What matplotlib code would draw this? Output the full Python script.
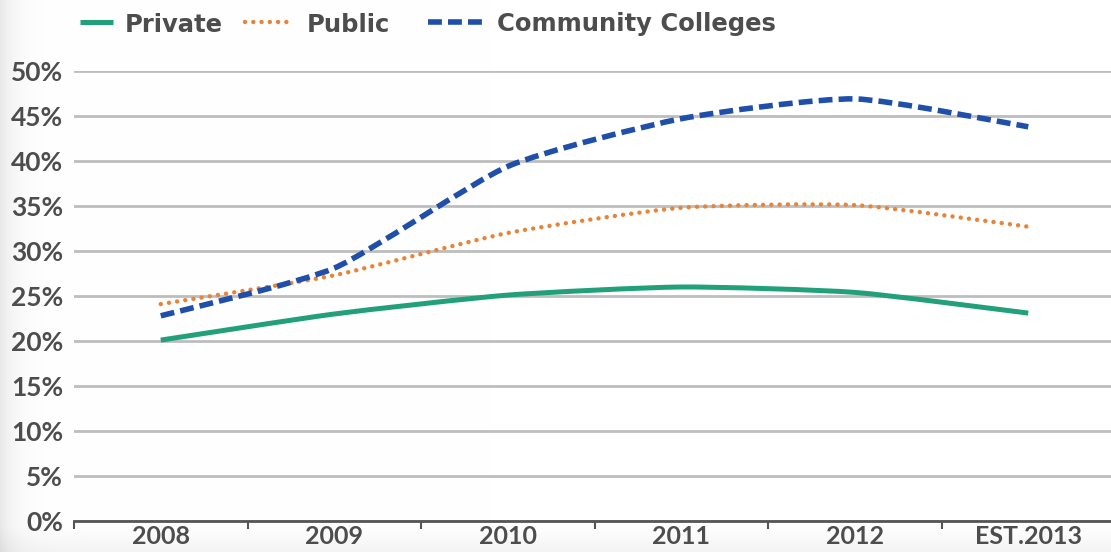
import numpy as np
import matplotlib
matplotlib.use("Agg")
import matplotlib.pyplot as plt
from matplotlib.path import Path
from matplotlib.patches import PathPatch
from matplotlib.lines import Line2D

years = ["2008", "2009", "2010", "2011", "2012", "EST.2013"]
private = [20.1, 23.0, 25.1, 26.0, 25.4, 23.1]
public = [24.1, 27.3, 32.0, 34.8, 35.1, 32.7]
community = [22.8, 28.1, 39.4, 44.7, 46.9, 43.8]
y_ticks = list(range(0, 55, 5))

GREEN = "#22a07a"
ORANGE = "#e6853a"
BLUE = "#1f4fa8"
TEXT = "#4d4d4d"

plt.rcParams["font.family"] = ["Lato", "DejaVu Sans"]

W, H = 1111, 552
fig = plt.figure(figsize=(W / 100, H / 100), dpi=100)
fig.patch.set_facecolor("white")

# soft grey shading along the left and bottom edges of the slide
xx = np.arange(W)[None, :]
yy = np.arange(H)[:, None]
shade = 0.09 * np.exp(-xx / 14.0) + 0.045 * np.clip((yy - 525) / 27.0, 0, 1)
bg = np.clip(1.0 - shade, 0, 1)
fig.figimage(np.dstack([bg, bg, bg]), xo=0, yo=0, origin="upper", zorder=-5)

ax = fig.add_axes([74 / W, 31 / H, 1041 / W, 450 / H])
ax.set_zorder(2)
ax.patch.set_alpha(0.0)


def smooth_path(xs, ys, tension=0.3):
    """Cubic Bezier path through the points (Catmull-Rom style control points)."""
    pts = np.column_stack([xs, ys]).astype(float)
    verts = [tuple(pts[0])]
    codes = [Path.MOVETO]
    n = len(pts)
    for i in range(n - 1):
        p0 = pts[i - 1] if i > 0 else pts[i]
        p1 = pts[i]
        p2 = pts[i + 1]
        p3 = pts[i + 2] if i + 2 < n else pts[i + 1]
        c1 = p1 + (p2 - p0) * tension / 3
        c2 = p2 - (p3 - p1) * tension / 3
        verts += [tuple(c1), tuple(c2), tuple(p2)]
        codes += [Path.CURVE4] * 3
    return Path(verts, codes)


x = np.arange(len(years))
series = [
    (private, GREEN, "-", 3.6, "butt", "Private"),
    (public, ORANGE, (0, (0.01, 1.85)), 3.2, "round", "Public"),
    (community, BLUE, (0, (2.5, 1.1)), 4.0, "butt", "Community Colleges"),
]
for vals, color, ls, lw, cap, label in series:
    patch = PathPatch(smooth_path(x, vals), facecolor="none", edgecolor=color,
                      linewidth=lw, linestyle=ls, capstyle=cap, zorder=3)
    ax.add_patch(patch)

ax.set_xlim(-0.5, len(years) - 0.5)
ax.set_ylim(0, 50)
ax.set_yticks(y_ticks)
ax.set_yticklabels([f"{t}%" for t in y_ticks])
ax.yaxis.grid(True, color="#bdbdbd", linewidth=2.0)
ax.set_axisbelow(True)
ax.tick_params(axis="y", length=0, pad=8, labelsize=19, labelcolor=TEXT)
for lab in ax.get_yticklabels():
    lab.set_fontweight("bold")

ax.set_xticks(x)
ax.set_xticklabels(years, fontsize=18, fontweight="bold", color=TEXT)
ax.set_xticks(np.arange(-0.5, len(years), 1.0), minor=True)
ax.tick_params(axis="x", which="major", length=0, pad=3)
ax.tick_params(axis="x", which="minor", length=6, width=1.5, color="#555555", direction="out")

for side in ["top", "right", "left"]:
    ax.spines[side].set_visible(False)
ax.spines["bottom"].set_color("#555555")
ax.spines["bottom"].set_linewidth(2.0)

# legend row across the top
legend_items = [
    (80, 113, 125, "Private"),
    (245, 292, 307, "Public"),
    (428, 483, 497, "Community Colleges"),
]
ly = 1 - 22 / H
for (x0, x1, tx, label), (vals, color, ls, lw, cap, _) in zip(legend_items, series):
    fig.add_artist(Line2D([x0 / W, x1 / W], [ly, ly], transform=fig.transFigure,
                          color=color, linestyle=ls, linewidth=lw,
                          dash_capstyle=cap, solid_capstyle="butt"))
    fig.text(tx / W, ly, label, ha="left", va="center_baseline", fontsize=17.5,
             fontweight="bold", color=TEXT, family=["DejaVu Sans"])

fig.savefig("out.png", dpi=100)
